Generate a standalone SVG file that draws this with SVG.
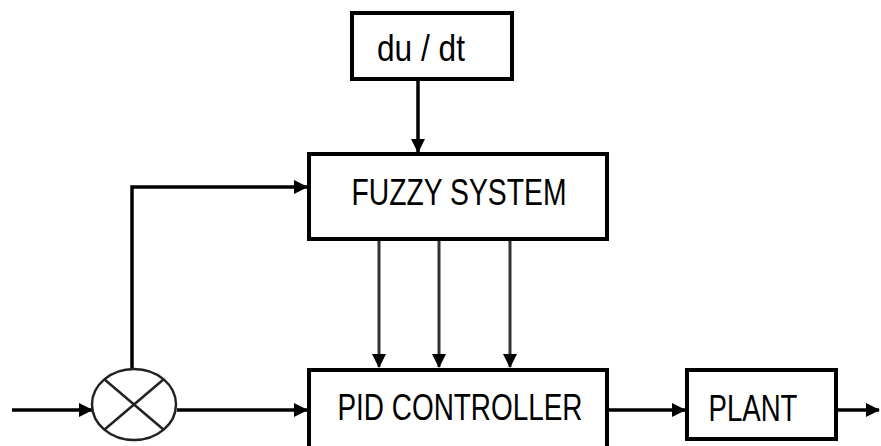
<svg xmlns="http://www.w3.org/2000/svg" width="881" height="446" viewBox="0 0 881 446">
<style>
.box{fill:#fff;stroke:#000;stroke-width:4}
.lbl{font-family:"Liberation Sans",Arial,sans-serif;font-size:36px;fill:#000}
.ln{fill:none;stroke:#000;stroke-width:3.5}
.gl{fill:none;stroke:#333;stroke-width:3}
</style>
<defs>
<marker id="ahb" markerWidth="14" markerHeight="14" refX="13" refY="7" orient="auto" markerUnits="userSpaceOnUse" viewBox="0 0 14 14">
<path d="M0,0 L14,7 L0,14 z" fill="#000"/>
</marker>
</defs>
<g id="connectors">
<line class="ln" x1="418" y1="79" x2="418" y2="152" marker-end="url(#ahb)"/>
<polyline class="ln" points="132,369 132,187 307,187" marker-end="url(#ahb)"/>
<line class="gl" x1="379" y1="239" x2="379" y2="367" marker-end="url(#ahb)"/>
<line class="gl" x1="439" y1="239" x2="439" y2="367" marker-end="url(#ahb)"/>
<line class="gl" x1="510" y1="239" x2="510" y2="367" marker-end="url(#ahb)"/>
<line class="ln" x1="12" y1="410" x2="92" y2="410" marker-end="url(#ahb)"/>
<line class="ln" x1="177" y1="410" x2="307" y2="410" marker-end="url(#ahb)"/>
<line class="ln" x1="607" y1="410" x2="685" y2="410" marker-end="url(#ahb)"/>
<line class="ln" x1="836" y1="410" x2="879" y2="410" marker-end="url(#ahb)"/>
</g>
<g id="dudt">
<rect class="box" x="352" y="13" width="160" height="66"/>
<text class="lbl" x="421" y="61" text-anchor="middle" textLength="88" lengthAdjust="spacingAndGlyphs">du / dt</text>
</g>
<g id="fuzzy">
<rect class="box" x="309" y="154" width="298" height="85"/>
<text class="lbl" x="459" y="205" text-anchor="middle" textLength="215" lengthAdjust="spacingAndGlyphs">FUZZY SYSTEM</text>
</g>
<g id="sum">
<ellipse cx="134" cy="404.5" rx="42" ry="35.5" fill="#fff" stroke="#222" stroke-width="2.5"/>
<line x1="104" y1="379" x2="164" y2="430" stroke="#222" stroke-width="2.5"/>
<line x1="164" y1="379" x2="104" y2="430" stroke="#222" stroke-width="2.5"/>
</g>
<g id="pid">
<rect class="box" x="309" y="370" width="298" height="90"/>
<text class="lbl" x="460" y="420" text-anchor="middle" textLength="245" lengthAdjust="spacingAndGlyphs">PID CONTROLLER</text>
</g>
<g id="plant">
<rect class="box" x="687" y="370" width="149" height="69"/>
<text class="lbl" x="753" y="421" text-anchor="middle" textLength="89" lengthAdjust="spacingAndGlyphs">PLANT</text>
</g>
</svg>
